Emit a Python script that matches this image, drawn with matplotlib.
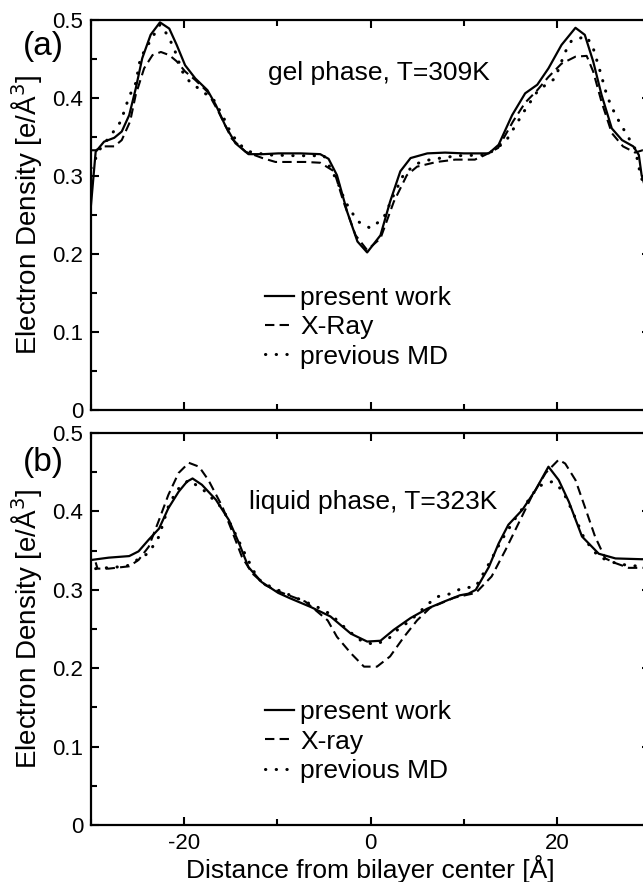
import matplotlib
matplotlib.use("Agg")
import matplotlib.pyplot as plt
from matplotlib.ticker import MultipleLocator

plt.rcParams['font.family'] = ['Liberation Sans', 'DejaVu Sans']

# ---------------- Panel (a): gel phase ----------------
a_present_x = [-30, -29.5, -28.6, -27.5, -26.7, -25.9, -25.2, -24.5, -23.6, -22.6, -21.6, -20.8, -19.9,
               -18.8, -17.5, -16.6, -15.6, -14.5, -13.1, -11.5, -9.9, -7.5, -5.4, -4.5, -3.6, -2.5, -1.4,
               -0.36, 1.07, 2.1, 3.2, 4.3, 6.1, 8, 10, 12.7, 13.75, 15.2, 16.6, 17.9, 19.1, 20.5, 22.0,
               23.0, 23.9, 24.8, 25.9, 27.0, 28.2, 28.8, 29.1, 29.5, 30]
a_present_y = [0.263, 0.331, 0.344, 0.349, 0.357, 0.378, 0.412, 0.451, 0.481, 0.497, 0.489, 0.468, 0.442,
               0.425, 0.410, 0.391, 0.365, 0.342, 0.328, 0.328, 0.329, 0.329, 0.328, 0.322, 0.301, 0.254,
               0.216, 0.202, 0.224, 0.267, 0.306, 0.323, 0.329, 0.330, 0.329, 0.329, 0.340, 0.378, 0.406,
               0.417, 0.438, 0.468, 0.490, 0.481, 0.447, 0.404, 0.361, 0.346, 0.338, 0.327, 0.301, 0.285,
               0.265]

a_xray_x = [-30, -29.5, -28.6, -27.5, -26.7, -25.8, -25.2, -24.3, -23.4, -22.5, -21.6, -20.8, -19.9,
            -18.8, -17.5, -16.3, -14.9, -13.4, -11.6, -10.2, -7, -5.4, -3.9, -2.9, -1.6, -0.36, 1.07,
            2.5, 3.9, 5.0, 7.1, 9.1, 11.2, 12.3, 13.7, 15.3, 16.6, 17.9, 19.1, 20.5, 22.0, 23.2, 23.9,
            24.8, 25.9, 27.1, 28.4, 29.2, 30]
a_xray_y = [0.333, 0.333, 0.338, 0.338, 0.346, 0.370, 0.404, 0.438, 0.455, 0.459, 0.455, 0.447, 0.434,
            0.423, 0.408, 0.382, 0.348, 0.331, 0.323, 0.318, 0.318, 0.317, 0.306, 0.267, 0.224, 0.205,
            0.220, 0.267, 0.301, 0.312, 0.318, 0.321, 0.321, 0.327, 0.336, 0.370, 0.394, 0.410, 0.427,
            0.444, 0.453, 0.454, 0.434, 0.395, 0.355, 0.338, 0.330, 0.333, 0.333]

a_md_x = [-30, -29, -27.7, -26.8, -25.9, -25.2, -24.7, -23.6, -22.6, -21.8, -21.1, -20.2, -19.3, -18.4,
          -16.8, -15.9, -14.9, -13.8, -12.9, -11, -8, -5, -3.6, -2.7, -1.4, 0, 1.4, 2.5, 3.6, 5.0, 6.4,
          9.3, 12.5, 14.5, 16.6, 18.0, 19.8, 20.9, 21.6, 23.2, 23.9, 24.7, 25.4, 26.3, 27.5, 28.4, 28.9,
          29.5]
a_md_y = [0.310, 0.335, 0.355, 0.370, 0.402, 0.419, 0.451, 0.474, 0.494, 0.481, 0.464, 0.434, 0.419,
          0.412, 0.397, 0.378, 0.353, 0.338, 0.331, 0.327, 0.326, 0.326, 0.294, 0.267, 0.242, 0.233,
          0.246, 0.276, 0.303, 0.316, 0.321, 0.326, 0.327, 0.344, 0.385, 0.410, 0.425, 0.459, 0.474,
          0.479, 0.464, 0.432, 0.402, 0.378, 0.353, 0.335, 0.306, 0.280]

# ---------------- Panel (b): liquid phase ----------------
b_present_x = [-30, -28.1, -25.9, -24.9, -23.8, -22.7, -21.7, -20.6, -19.7, -19.1, -18.1, -16.6, -15.2,
               -14.1, -13.1, -11.7, -9.9, -8.6, -6.4, -4.3, -2.1, -0.36, 1.07, 2.5, 4.3, 6.1, 7.9, 9.6,
               10.5, 11.3, 12.7, 13.75, 14.8, 16.3, 17.7, 19.1, 20.2, 21.3, 22.7, 24.5, 26.3, 29.1, 30]
b_present_y = [0.338, 0.341, 0.343, 0.349, 0.364, 0.378, 0.404, 0.425, 0.438, 0.442, 0.434, 0.415, 0.389,
               0.359, 0.329, 0.310, 0.296, 0.289, 0.278, 0.266, 0.244, 0.234, 0.235, 0.249, 0.264, 0.276,
               0.285, 0.293, 0.295, 0.300, 0.329, 0.359, 0.383, 0.402, 0.427, 0.457, 0.440, 0.412, 0.368,
               0.346, 0.340, 0.339, 0.339]

b_xray_x = [-29.5, -29.3, -28.1, -25.9, -24.9, -23.8, -22.7, -21.7, -20.6, -19.5, -18.4, -17.4, -15.9,
            -14.9, -13.8, -12.7, -11.3, -9.9, -7, -4.6, -3.6, -2.1, -0.7, 0.7, 2.1, 3.6, 5.0, 6.4, 9,
            11.3, 13.0, 14.5, 15.9, 17.3, 18.8, 20.2, 20.9, 22.0, 23.0, 24.1, 25.2, 26.3, 27.7, 30]
b_xray_y = [0.335, 0.327, 0.327, 0.330, 0.338, 0.355, 0.389, 0.421, 0.449, 0.462, 0.457, 0.440, 0.406,
            0.376, 0.342, 0.321, 0.306, 0.298, 0.285, 0.261, 0.240, 0.219, 0.202, 0.202, 0.215, 0.240,
            0.261, 0.277, 0.290, 0.296, 0.317, 0.351, 0.385, 0.419, 0.449, 0.466, 0.461, 0.440, 0.406,
            0.368, 0.340, 0.334, 0.328, 0.328]

b_md_x = [-29.5, -26.2, -23.8, -22.7, -21.7, -20.8, -19.5, -17.9, -15.9, -14.9, -13.4, -12.1, -10.75,
          -10, -8.6, -5.7, -4.3, -2.5, -1.1, 0.36, 1.8, 2.9, 4.3, 6.1, 7.1, 8.6, 9.8, 11.3, 12.7, 14.1,
          15.6, 17.0, 18.0, 19.5, 20.6, 21.6, 23.0, 24.5, 26.3, 27.7, 29.1, 30]
b_md_y = [0.327, 0.330, 0.347, 0.368, 0.406, 0.427, 0.440, 0.427, 0.404, 0.381, 0.344, 0.314, 0.304,
          0.300, 0.293, 0.278, 0.269, 0.249, 0.236, 0.230, 0.236, 0.249, 0.261, 0.281, 0.291, 0.295,
          0.302, 0.304, 0.333, 0.364, 0.392, 0.415, 0.432, 0.438, 0.427, 0.402, 0.364, 0.342, 0.334,
          0.331, 0.330, 0.330]

labels_a = ["present work", "X-Ray", "previous MD"]
labels_b = ["present work", "X-ray", "previous MD"]
y_ticks = [0, 0.1, 0.2, 0.3, 0.4, 0.5]
y_ticklabels = ["0", "0.1", "0.2", "0.3", "0.4", "0.5"]
x_ticks = [-20, 0, 20]
x_ticklabels = ["-20", "0", "20"]

FS = 19      # labels / annotations
TFS = 16     # tick labels
W, H = 643, 882
fig = plt.figure(figsize=(W / 100, H / 100), dpi=100)

def px_axes(left, top, right, bottom):
    return fig.add_axes([left / W, 1 - bottom / H, (right - left) / W, (bottom - top) / H])

ax_a = px_axes(91, 20, 650, 410)
ax_b = px_axes(91, 433, 650, 825)

solid = dict(color="black", lw=1.6, ls="-")
dashed = dict(color="black", lw=1.5, ls=(0, (4.5, 2.5)))
dotted = dict(color="black", lw=2.2, ls=(0, (0.1, 3.4)), dash_capstyle="round")

def style(ax, show_x):
    ax.set_xlim(-30, 30)
    ax.set_ylim(0, 0.5)
    ax.set_yticks(y_ticks)
    ax.set_yticklabels(y_ticklabels)
    ax.yaxis.set_minor_locator(MultipleLocator(0.05))
    ax.set_xticks(x_ticks)
    ax.xaxis.set_minor_locator(MultipleLocator(10))
    if show_x:
        ax.set_xticklabels(x_ticklabels)
    else:
        ax.set_xticklabels([])
    ax.tick_params(which="both", direction="in", top=True, right=True, width=1.5,
                   labelsize=TFS, pad=5.5)
    ax.tick_params(which="major", length=6)
    ax.tick_params(which="minor", length=4.5)
    for s in ax.spines.values():
        s.set_linewidth(1.6)
    ax.set_ylabel("Electron Density [e/Å$^3$]", fontsize=20, labelpad=5)

def add_legend(ax, labels):
    ax.legend(labels, loc="upper left", bbox_to_anchor=(0.311, 0.318), frameon=False, fontsize=FS,
              handlelength=1.1, handletextpad=0.25, labelspacing=0.2, borderpad=0, borderaxespad=0)

ax_a.plot(a_present_x, a_present_y, **solid)
ax_a.plot(a_xray_x, a_xray_y, **dashed)
ax_a.plot(a_md_x, a_md_y, **dotted)
style(ax_a, False)
ax_a.text(0.86, 0.432, "gel phase, T=309K", fontsize=FS, ha="center", va="center")
fig.text(43 / W, 1 - 46 / H, "(a)", fontsize=24, ha="center", va="center")
add_legend(ax_a, labels_a)

ax_b.plot(b_present_x, b_present_y, **solid)
ax_b.plot(b_xray_x, b_xray_y, **dashed)
ax_b.plot(b_md_x, b_md_y, **dotted)
style(ax_b, True)
ax_b.text(0.3, 0.412, "liquid phase, T=323K", fontsize=FS, ha="center", va="center")
fig.text(43 / W, 1 - 463 / H, "(b)", fontsize=24, ha="center", va="center")
add_legend(ax_b, labels_b)
ax_b.set_xlabel("Distance from bilayer center [Å]", fontsize=FS, labelpad=1)

fig.savefig("out.png", dpi=100)
